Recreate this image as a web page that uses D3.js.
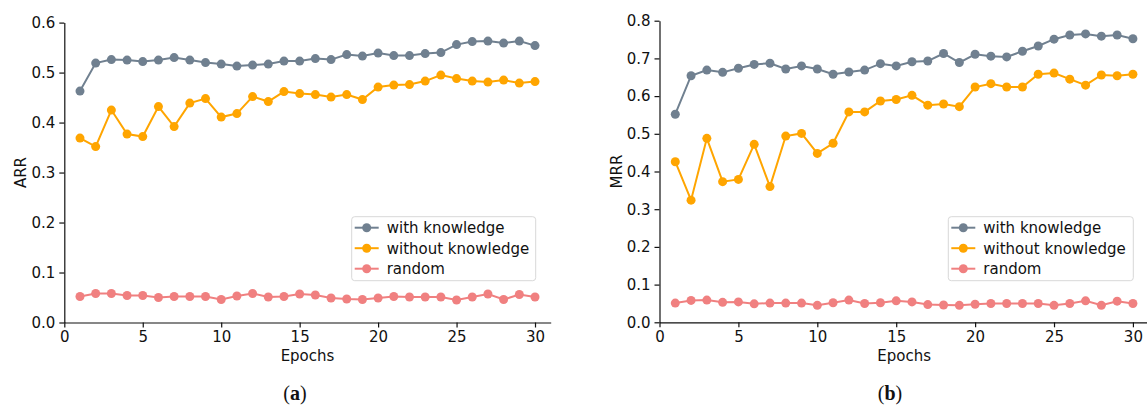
<!DOCTYPE html>
<html lang="en">
  <head>
    <meta charset="UTF-8" />
    <title>ARR / MRR by epoch</title>
    <style>
      body { margin: 0; background: #fff; }
      svg text { font-family: "DejaVu Sans", sans-serif; fill: #111; }
      .tick line, .domain { stroke: #111; }
    </style>
  </head>
  <body>
    <div id="chart"></div>

    <script src="https://d3js.org/d3.v7.min.js"></script>
    <script>

    // epochs on the x axis
    var epochs = [1, 2, 3, 4, 5, 6, 7, 8, 9, 10, 11, 12, 13, 14, 15,
                  16, 17, 18, 19, 20, 21, 22, 23, 24, 25, 26, 27, 28, 29, 30];

    // panel (a): ARR
    var arrWith = [0.463, 0.519, 0.526, 0.525, 0.522, 0.525, 0.530, 0.525, 0.520, 0.517,
                   0.513, 0.515, 0.517, 0.523, 0.523, 0.528, 0.526, 0.536, 0.533, 0.539,
                   0.534, 0.534, 0.538, 0.540, 0.556, 0.562, 0.563, 0.559, 0.563, 0.554];
    var arrWithout = [0.369, 0.352, 0.425, 0.377, 0.372, 0.432, 0.392, 0.439, 0.448, 0.411,
                      0.418, 0.452, 0.442, 0.462, 0.458, 0.456, 0.451, 0.456, 0.446, 0.471,
                      0.475, 0.476, 0.483, 0.495, 0.488, 0.483, 0.481, 0.485, 0.479, 0.482];
    var arrRandom = [0.052, 0.058, 0.058, 0.054, 0.054, 0.050, 0.052, 0.052, 0.052, 0.046,
                     0.053, 0.058, 0.051, 0.052, 0.057, 0.055, 0.049, 0.047, 0.046, 0.049,
                     0.052, 0.051, 0.051, 0.051, 0.045, 0.051, 0.057, 0.046, 0.056, 0.051];

    // panel (b): MRR
    var mrrWith = [0.552, 0.654, 0.669, 0.663, 0.674, 0.684, 0.687, 0.672, 0.680, 0.672,
                   0.658, 0.664, 0.669, 0.686, 0.680, 0.691, 0.693, 0.713, 0.689, 0.711,
                   0.706, 0.704, 0.719, 0.733, 0.751, 0.762, 0.765, 0.759, 0.762, 0.752];
    var mrrWithout = [0.426, 0.324, 0.488, 0.373, 0.379, 0.472, 0.360, 0.494, 0.501, 0.448,
                      0.475, 0.558, 0.558, 0.587, 0.591, 0.602, 0.576, 0.579, 0.572, 0.624,
                      0.633, 0.624, 0.624, 0.658, 0.661, 0.645, 0.629, 0.656, 0.654, 0.658];
    var mrrRandom = [0.051, 0.058, 0.059, 0.053, 0.054, 0.049, 0.051, 0.051, 0.051, 0.045,
                     0.052, 0.059, 0.050, 0.052, 0.057, 0.054, 0.047, 0.046, 0.045, 0.048,
                     0.050, 0.050, 0.050, 0.050, 0.045, 0.050, 0.057, 0.045, 0.056, 0.050];

    var seriesNames = ["with knowledge", "without knowledge", "random"];
    var seriesColors = ["#708090", "#FFA500", "#F08080"];

    var xTicks = [0, 5, 10, 15, 20, 25, 30];
    var arrTicks = [0.0, 0.1, 0.2, 0.3, 0.4, 0.5, 0.6];
    var mrrTicks = [0.0, 0.1, 0.2, 0.3, 0.4, 0.5, 0.6, 0.7, 0.8];

    var w = 1147, h = 405;

    var svg = d3.select("#chart")
                .append("svg")
                .attr("width", w)
                .attr("height", h);

    function drawPanel(p) {
      var x = d3.scaleLinear().domain([0, 31]).range([p.left, p.right]);
      var y = d3.scaleLinear().domain([0, p.yMax]).range([p.bottom, p.top]);

      var g = svg.append("g");

      // axes (top/right spines hidden like the original)
      var xAxis = d3.axisBottom(x).tickValues(xTicks).tickSize(5).tickSizeOuter(0).tickPadding(4);
      g.append("g")
        .attr("transform", "translate(0," + p.bottom + ")")
        .call(xAxis)
        .call(function(a) {
          a.selectAll("text").style("font-size", "15px").style("font-family", "DejaVu Sans").attr("fill", "#111");
          a.selectAll("line, path").attr("stroke-width", 1.2);
        });

      var yAxis = d3.axisLeft(y).tickValues(p.yTicks).tickFormat(d3.format(".1f"))
                    .tickSize(5).tickSizeOuter(0).tickPadding(4);
      g.append("g")
        .attr("transform", "translate(" + p.left + ",0)")
        .call(yAxis)
        .call(function(a) {
          a.selectAll("text").style("font-size", "15px").style("font-family", "DejaVu Sans").attr("fill", "#111");
          a.selectAll("line, path").attr("stroke-width", 1.2);
        });

      // lines + markers
      var line = d3.line()
                   .x(function(d, i) { return x(epochs[i]); })
                   .y(function(d) { return y(d); });

      p.series.forEach(function(vals, k) {
        g.append("path")
          .datum(vals)
          .attr("d", line)
          .attr("fill", "none")
          .attr("stroke", seriesColors[k])
          .attr("stroke-width", 2);

        g.selectAll(null)
          .data(vals)
          .enter()
          .append("circle")
          .attr("cx", function(d, i) { return x(epochs[i]); })
          .attr("cy", function(d) { return y(d); })
          .attr("r", 4.5)
          .attr("fill", seriesColors[k]);
      });

      // axis titles
      g.append("text")
        .attr("x", (p.left + p.axisEnd) / 2)
        .attr("y", 361)
        .attr("text-anchor", "middle")
        .style("font-size", "15px")
        .text("Epochs");

      g.append("text")
        .attr("transform", "translate(" + (p.left - 38) + "," + ((p.top + p.bottom) / 2) + ") rotate(-90)")
        .attr("text-anchor", "middle")
        .style("font-size", "15px")
        .text(p.yLabel);

      // legend
      var lg = g.append("g").attr("transform", "translate(" + p.legX + "," + p.legY + ")");
      lg.append("rect")
        .attr("x", 0).attr("y", 0)
        .attr("width", p.legW).attr("height", 64)
        .attr("rx", 3)
        .attr("fill", "#fff")
        .attr("fill-opacity", 0.8)
        .attr("stroke", "#d8d8d8");

      seriesNames.forEach(function(name, k) {
        var ry = 11 + k * 20.5;
        lg.append("line")
          .attr("x1", 3).attr("x2", 27)
          .attr("y1", ry).attr("y2", ry)
          .attr("stroke", seriesColors[k])
          .attr("stroke-width", 2);
        lg.append("circle")
          .attr("cx", 15).attr("cy", ry).attr("r", 4.5)
          .attr("fill", seriesColors[k]);
        lg.append("text")
          .attr("x", 35).attr("y", ry + 5.5)
          .style("font-size", "15px")
          .text(name);
      });

      // sub-figure label
      svg.append("text")
        .attr("x", p.capX)
        .attr("y", 400)
        .attr("text-anchor", "middle")
        .style("font-family", "'Liberation Serif', serif")
        .style("font-size", "20px")
        .html("(<tspan font-weight='bold'>" + p.cap + "</tspan>)");
    }

    drawPanel({
      left: 64.3, right: 550.7, axisEnd: 550.7, top: 22.6, bottom: 322.5,
      yMax: 0.6, yTicks: arrTicks, yLabel: "ARR",
      series: [arrWith, arrWithout, arrRandom],
      legX: 351.7, legY: 216.7, legW: 184,
      capX: 295, cap: "a"
    });

    drawPanel({
      left: 659.5, right: 1148.7, axisEnd: 1148.7, top: 20.7, bottom: 322.3,
      yMax: 0.8, yTicks: mrrTicks, yLabel: "MRR",
      series: [mrrWith, mrrWithout, mrrRandom],
      legX: 948.3, legY: 216.7, legW: 185,
      capX: 890, cap: "b"
    });

    </script>
  </body>
</html>
